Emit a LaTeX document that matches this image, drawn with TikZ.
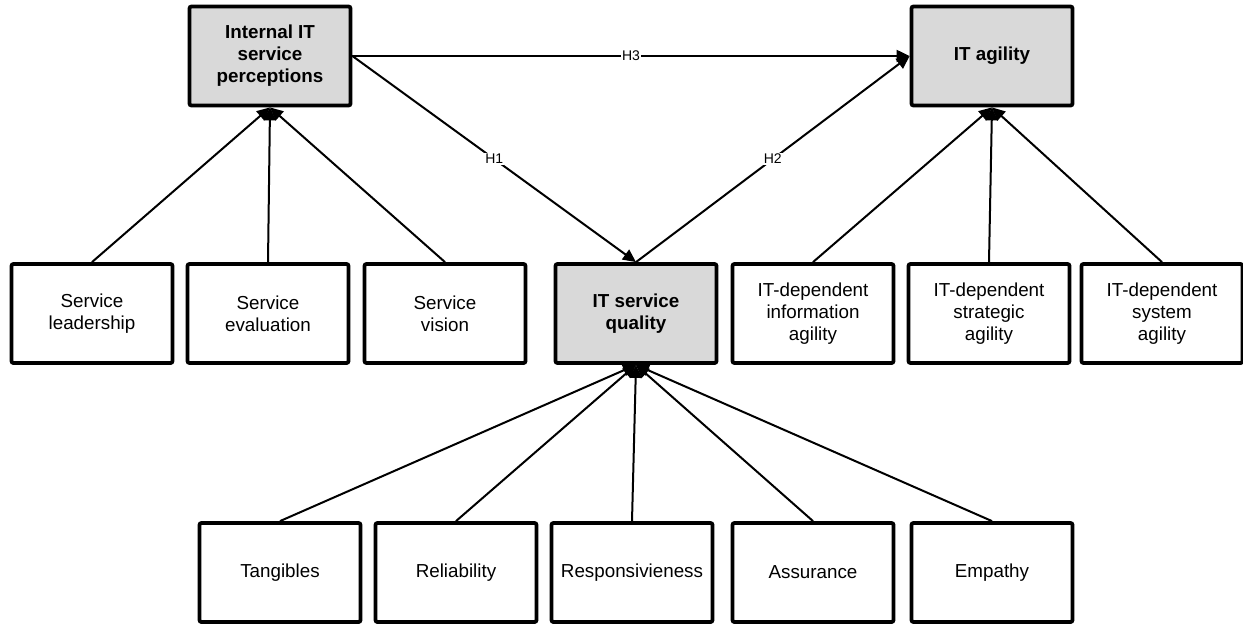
\documentclass[tikz,border=0pt]{standalone}
\usepackage{fontspec}
\setmainfont{Liberation Sans}
\usetikzlibrary{arrows.meta}
\begin{document}
\begin{tikzpicture}[x=1pt,y=-1pt,
 box/.style={draw=black, line width=3.8pt, rounded corners=2pt, minimum width=161pt, minimum height=99pt, align=center, inner sep=0pt, font=\fontsize{18.8}{22}\selectfont},
 construct/.style={box, fill=gray!30, font=\fontsize{18.8}{22}\selectfont\bfseries},
 link/.style={line width=2pt, -{Triangle[length=13pt,width=12pt]}},
 hlabel/.style={fill=white, inner sep=1pt, font=\fontsize{14}{14}\selectfont}]
\useasboundingbox (0,0) rectangle (1243,624);
% constructs
\node[construct] (ip) at (270,56) {Internal IT\\service\\perceptions};
\node[construct] (ag) at (992,56) {IT agility};
\node[construct] (sq) at (636,313.5) {IT service\\quality};
% indicators of internal IT service perceptions
\node[box] (sl) at (92,313.5) {Service\\leadership};
\node[box] (se) at (268,313.5) {Service\\evaluation};
\node[box] (sv) at (445,313.5) {Service\\vision};
% indicators of IT agility
\node[box] (ia) at (813,313.5) {IT-dependent\\information\\agility};
\node[box] (sa) at (989,313.5) {IT-dependent\\strategic\\agility};
\node[box] (sy) at (1162,313.5) {IT-dependent\\system\\agility};
% indicators of IT service quality
\node[box] (tg) at (280,572.5) {Tangibles};
\node[box] (rl) at (456,572.5) {Reliability};
\node[box] (rs) at (632,572.5) {Responsivieness};
\node[box] (as) at (813,572.5) {Assurance};
\node[box] (em) at (992,572.5) {Empathy};
% connectors
\foreach \n in {sl,se,sv} \draw[link] (\n.north) -- (ip.south);
\foreach \n in {ia,sa,sy} \draw[link] (\n.north) -- (ag.south);
\foreach \n in {tg,rl,rs,as,em} \draw[link] (\n.north) -- (sq.south);
\draw[link] (ip.east) -- node[hlabel] {H3} (ag.west);
\draw[link] (ip.east) -- node[hlabel] {H1} (sq.north);
\draw[link] (sq.north) -- node[hlabel] {H2} (ag.west);
\end{tikzpicture}
\end{document}
